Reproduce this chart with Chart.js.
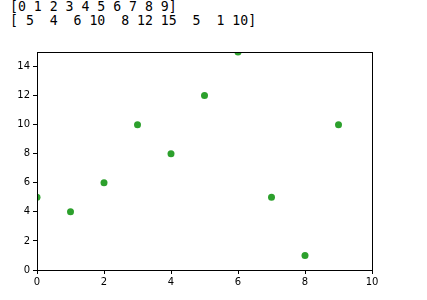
<!DOCTYPE html>
<html><head><meta charset="utf-8">
<script src="https://cdn.jsdelivr.net/npm/chart.js@4/dist/chart.umd.min.js"></script>
<style>
html,body{margin:0;padding:0;background:#fff;width:427px;height:300px;overflow:hidden;}
#txt{position:absolute;left:10px;top:0px;margin:0;font-family:"DejaVu Sans Mono",monospace;font-size:13.2px;line-height:14px;color:#000;white-space:pre;}
#wrap{position:absolute;left:0;top:0;width:427px;height:300px;}
</style></head>
<body>
<pre id="txt"></pre>
<div id="wrap"><canvas id="c" width="427" height="300"></canvas></div>
<script>
const xValues = [0, 1, 2, 3, 4, 5, 6, 7, 8, 9];
const yValues = [5, 4, 6, 10, 8, 12, 15, 5, 1, 10];
const xTicks = [0, 2, 4, 6, 8, 10];
const yTicks = [0, 2, 4, 6, 8, 10, 12, 14];

function fmtArr(a){
  const w = Math.max(...a.map(v=>String(v).length));
  return '[' + a.map(v=>String(v).padStart(w,' ')).join(' ') + ']';
}
document.getElementById('txt').textContent = fmtArr(xValues) + '\n' + fmtArr(yValues);

const frame = {
  id:'frame',
  afterDraw(chart){
    const {ctx, chartArea:a} = chart;
    ctx.save();
    ctx.strokeStyle='#000';ctx.lineWidth=1;
    ctx.strokeRect(Math.round(a.left)+0.5, Math.round(a.top)+0.5, Math.round(a.right-a.left), Math.round(a.bottom-a.top));
    ctx.restore();
  }
};

new Chart(document.getElementById('c'), {
  type:'scatter',
  data:{datasets:[{
    data: xValues.map((x,i)=>({x, y:yValues[i]})),
    backgroundColor:'#2ca02c', borderColor:'#2ca02c', pointRadius:3.5, borderWidth:0,
    clip:0
  }]},
  options:{
    responsive:false, animation:false, devicePixelRatio:1,
    layout:{padding:{top:52,right:55,left:0,bottom:0}},
    plugins:{legend:{display:false},tooltip:{enabled:false}},
    scales:{
      x:{type:'linear',min:0,max:10,
        afterBuildTicks(s){s.ticks = xTicks.map(v=>({value:v}));},
        afterFit(s){s.height=30;},
        grid:{drawOnChartArea:false,drawTicks:true,tickLength:4,color:'#000'},
        border:{display:true,color:'#000'},
        ticks:{color:'#000',font:{family:'DejaVu Sans',size:10},padding:2,maxRotation:0}
      },
      y:{type:'linear',min:0,max:15,
        afterBuildTicks(s){s.ticks = yTicks.map(v=>({value:v}));},
        afterFit(s){s.width=37;},
        grid:{drawOnChartArea:false,drawTicks:true,tickLength:4,color:'#000'},
        border:{display:true,color:'#000'},
        ticks:{color:'#000',font:{family:'DejaVu Sans',size:10},padding:3}
      }
    }
  },
  plugins:[frame]
});
</script>
</body></html>
